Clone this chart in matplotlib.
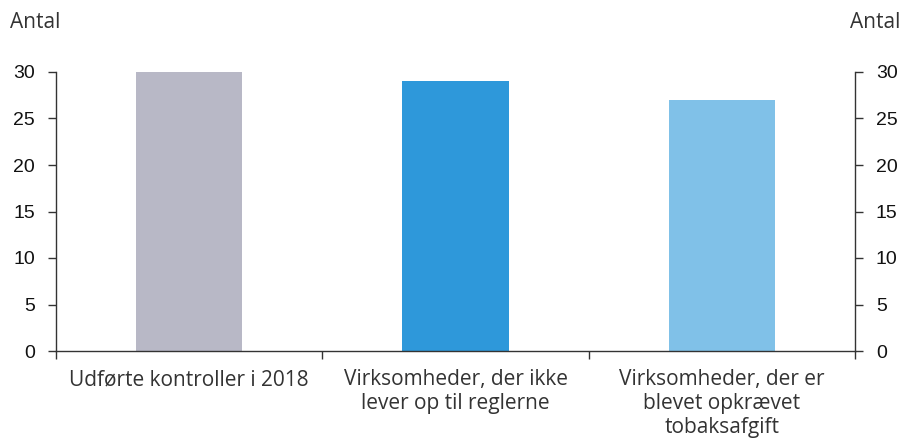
import matplotlib
matplotlib.use("Agg")
import matplotlib.pyplot as plt
from matplotlib.ticker import FixedLocator

categories = ["Udførte kontroller i 2018",
              "Virksomheder, der ikke\nlever op til reglerne",
              "Virksomheder, der er\nblevet opkrævet\ntobaksafgift"]
values = [30, 29, 27]
colors = ["#b8b8c6", "#2e98da", "#80c1e8"]
yticks = [0, 5, 10, 15, 20, 25, 30]

fig = plt.figure(figsize=(9.02, 4.38), dpi=100)
ax = fig.add_axes([56/902, 1-351/438, (855-56)/902, (351-72)/438])

x = list(range(len(categories)))
ax.bar(x, values, width=0.4, color=colors, zorder=2)

ax.set_xlim(-0.5, 2.5)
ax.set_ylim(0, 30)

ax.spines["top"].set_visible(False)
for s in ["left", "right", "bottom"]:
    ax.spines[s].set_color("#333333")
    ax.spines[s].set_linewidth(1.0)

tickfont = "Liberation Sans"
ax.set_yticks(yticks)
ax.yaxis.set_ticks_position("both")
ax.tick_params(axis="y", direction="out", length=6, width=1, color="#333333", pad=9,
               left=True, right=True, labelleft=True, labelright=True,
               labelsize=14, labelcolor="#111111")
for t in ax.yaxis.get_major_ticks():
    t.label1.set_family(tickfont)
    t.label2.set_family(tickfont)

labfont = "Open Sans"
ax.set_xticks(x)
ax.set_xticklabels(categories, fontsize=15, family=labfont, color="#333333", linespacing=1.18)
ax.tick_params(axis="x", which="major", length=0, pad=13)
ax.xaxis.set_minor_locator(FixedLocator([-0.5, 0.5, 1.5, 2.5]))
ax.tick_params(axis="x", which="minor", length=6, width=1, color="#333333", direction="out")

fig.text(10/902, 1-22/438, "Antal", fontsize=15, family=labfont, color="#333333", va="center", ha="left")
fig.text(900/902, 1-22/438, "Antal", fontsize=15, family=labfont, color="#333333", va="center", ha="right")

fig.savefig("out.png", dpi=100)
